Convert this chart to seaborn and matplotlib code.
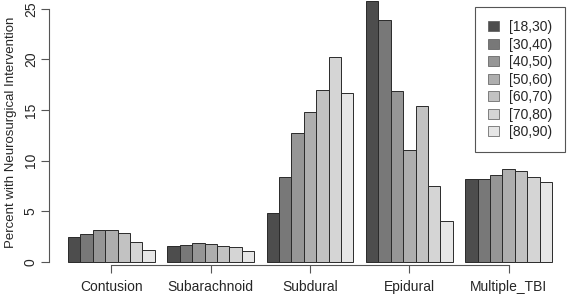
import pandas as pd
import matplotlib
matplotlib.use('Agg')
import matplotlib.pyplot as plt
import seaborn as sns

injury_types = ['Contusion', 'Subarachnoid', 'Subdural', 'Epidural', 'Multiple_TBI']
age_groups = ['[18,30)', '[30,40)', '[40,50)', '[50,60)', '[60,70)', '[70,80)', '[80,90)']

contusion = [2.5, 2.8, 3.2, 3.2, 2.85, 1.95, 1.2]
subarachnoid = [1.6, 1.65, 1.85, 1.8, 1.6, 1.45, 1.1]
subdural = [4.8, 8.4, 12.7, 14.85, 16.95, 20.2, 16.7]
epidural = [25.8, 23.85, 16.85, 11.05, 15.4, 7.45, 4.05]
multiple_tbi = [8.15, 8.15, 8.55, 9.15, 8.95, 8.35, 7.85]

grays = ['#4d4d4d', '#787878', '#969696', '#aeaeae', '#c2c2c2', '#d5d5d5', '#e6e6e6']

rows = []
for inj, vals in zip(injury_types, [contusion, subarachnoid, subdural, epidural, multiple_tbi]):
    for age, v in zip(age_groups, vals):
        rows.append({'type': inj, 'age': age, 'pct': v})
df = pd.DataFrame(rows)

sns.set_theme(style='ticks')
plt.rcParams['font.family'] = ['Liberation Sans', 'DejaVu Sans']

fig = plt.figure(figsize=(5.67, 2.94), dpi=100)
ax = fig.add_axes([49 / 567, 29 / 294, 518 / 567, 265 / 294])

sns.barplot(data=df, x='type', y='pct', hue='age', hue_order=age_groups,
            order=injury_types, palette=grays, width=0.875,
            edgecolor='#2a2a2a', linewidth=0.7, errorbar=None, ax=ax)

ax.set_xlim(-0.629, 4.588)
ax.set_ylim(-0.3, 25.86)
ax.set_yticks([0, 5, 10, 15, 20, 25])
for lab in ax.get_yticklabels():
    lab.set_rotation(90)
    lab.set_va('center')
ax.tick_params(axis='y', labelsize=10, length=6, width=0.8, pad=2, color='#555555')
ax.tick_params(axis='x', labelsize=10, length=6, width=0.8, pad=5, color='#555555')

sns.despine(ax=ax)
ax.spines['left'].set_bounds(0, 25)
ax.spines['bottom'].set_bounds(0, 4)
for s in ['left', 'bottom']:
    ax.spines[s].set_linewidth(0.8)
    ax.spines[s].set_color('#555555')

ax.set_xlabel('')
ax.set_ylabel('Percent with Neurosurgical Intervention', fontsize=9.5)
ax.yaxis.set_label_coords(-0.062, 0.5)

handles, labels = ax.get_legend_handles_labels()
leg = ax.legend(handles, labels, loc='upper right', bbox_to_anchor=(565 / 567, 1 - 7 / 294),
                bbox_transform=fig.transFigure, borderaxespad=0, fontsize=10,
                handlelength=0.75, handleheight=0.75, handletextpad=0.7,
                labelspacing=0.25, borderpad=0.95, fancybox=False, framealpha=1)
leg.get_frame().set_edgecolor('#555555')
leg.get_frame().set_linewidth(0.8)
for h in leg.legend_handles:
    h.set_edgecolor('#555555')
    h.set_linewidth(0.5)

plt.savefig('out.png', dpi=100)
